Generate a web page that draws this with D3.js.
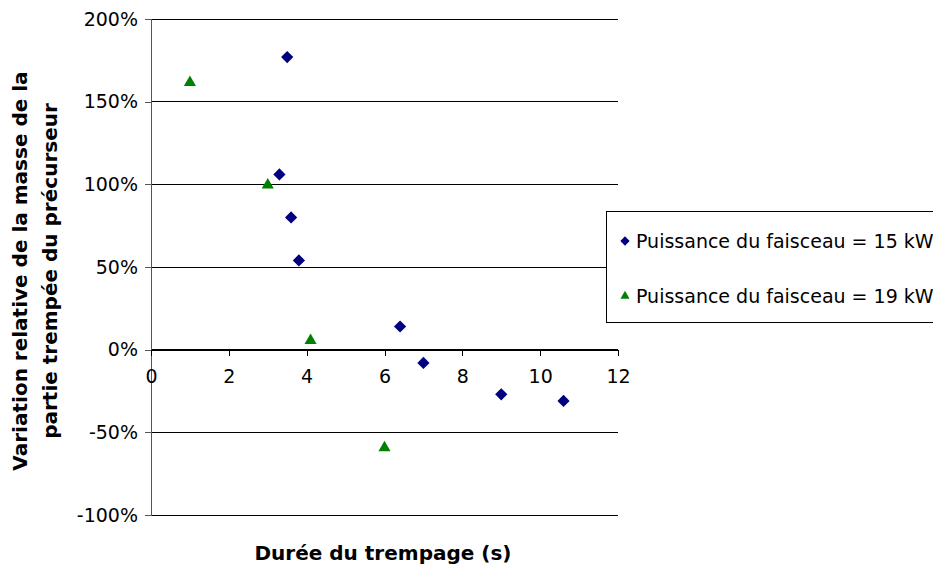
<!DOCTYPE html>
<html>
<head>
<meta charset="utf-8">
<script src="https://cdn.jsdelivr.net/npm/d3@7"></script>
<style>
  body { margin: 0; background: #fff; }
  text { font-family: "DejaVu Sans", sans-serif; }
</style>
</head>
<body>
<div id="chart"></div>
<script>
// data
var xP15 = [3.5, 3.3, 3.6, 3.8, 6.4, 7.0, 9.0, 10.6];
var yP15 = [177, 106, 80, 54, 14, -8, -27, -31];
var xP19 = [1.0, 3.0, 4.1, 6.0];
var yP19 = [161, 99, 5, -60];
var seriesNames = ["Puissance du faisceau = 15 kW", "Puissance du faisceau = 19 kW"];
var xTicks = [0, 2, 4, 6, 8, 10, 12];
var yTicks = [-100, -50, 0, 50, 100, 150, 200];

var W = 933, H = 567;
var plotLeft = 151, plotRight = 618, plotTop = 19, plotBottom = 515;

var svg = d3.select("#chart").append("svg")
  .attr("width", W).attr("height", H);

var x = d3.scaleLinear().domain([0, 12]).range([plotLeft, plotRight]);
var y = d3.scaleLinear().domain([-100, 200]).range([plotBottom, plotTop]);

// gridlines
svg.append("g")
  .selectAll("line")
  .data(yTicks)
  .join("line")
    .attr("x1", plotLeft).attr("x2", plotRight)
    .attr("y1", d => y(d)).attr("y2", d => y(d))
    .attr("stroke", "#000").attr("stroke-width", 1)
    .attr("shape-rendering", "crispEdges");

// y axis
var yAxis = svg.append("g")
  .attr("transform", "translate(" + plotLeft + ",0)")
  .call(d3.axisLeft(y).tickValues(yTicks).tickSize(6).tickPadding(7)
    .tickFormat(d => d + "%"));
yAxis.select(".domain").attr("stroke", "#555").attr("shape-rendering", "crispEdges");
yAxis.selectAll(".tick line").attr("stroke", "#555").attr("shape-rendering", "crispEdges");
yAxis.selectAll("text").style("font-size", "19px").style("font-family", "DejaVu Sans").attr("fill", "#000");

// x axis at 0%
var xAxis = svg.append("g")
  .attr("transform", "translate(0," + y(0) + ")")
  .call(d3.axisBottom(x).tickValues(xTicks).tickSize(6).tickPadding(14));
xAxis.select(".domain").attr("stroke", "#000").attr("shape-rendering", "crispEdges");
xAxis.selectAll(".tick line").attr("stroke", "#000").attr("shape-rendering", "crispEdges");
xAxis.selectAll("text").style("font-size", "19px").style("font-family", "DejaVu Sans").attr("fill", "#000");

// markers
var diamond = d3.symbol().type(d3.symbolDiamond2).size(95);
var triangle = d3.symbol().type(d3.symbolTriangle2).size(105);

svg.append("g")
  .selectAll("path")
  .data(d3.zip(xP15, yP15))
  .join("path")
    .attr("d", diamond)
    .attr("transform", d => "translate(" + x(d[0]) + "," + y(d[1]) + ")")
    .attr("fill", "#000080");

svg.append("g")
  .selectAll("path")
  .data(d3.zip(xP19, yP19))
  .join("path")
    .attr("d", triangle)
    .attr("transform", d => "translate(" + x(d[0]) + "," + (y(d[1]) - 1) + ")")
    .attr("fill", "#008000");

// axis titles
svg.append("text")
  .attr("x", 383).attr("y", 560)
  .attr("text-anchor", "middle")
  .style("font-size", "20px").style("font-weight", "bold")
  .text("Durée du trempage (s)");

var yt = svg.append("text")
  .attr("transform", "translate(27,271) rotate(-90)")
  .attr("text-anchor", "middle")
  .style("font-size", "20px").style("font-weight", "bold");
yt.append("tspan").attr("x", 0).attr("dy", 0).text("Variation relative de la masse de la");
yt.append("tspan").attr("x", 0).attr("dy", 30).text("partie trempée du précurseur");

// legend
var lg = svg.append("g");
lg.append("rect")
  .attr("x", 606.5).attr("y", 211.5).attr("width", 340).attr("height", 111)
  .attr("fill", "#fff").attr("stroke", "#000");
var legItems = lg.selectAll("g.item")
  .data(seriesNames)
  .join("g")
    .attr("transform", (d, i) => "translate(625," + (241 + i * 55) + ")");
legItems.append("path")
  .attr("d", (d, i) => i === 0 ? d3.symbol().type(d3.symbolDiamond2).size(55)() : d3.symbol().type(d3.symbolTriangle2).size(60)())
  .attr("fill", (d, i) => i === 0 ? "#000080" : "#008000");
legItems.append("text")
  .attr("x", 11).attr("y", 7)
  .style("font-size", "19px")
  .text(d => d);
</script>
</body>
</html>
